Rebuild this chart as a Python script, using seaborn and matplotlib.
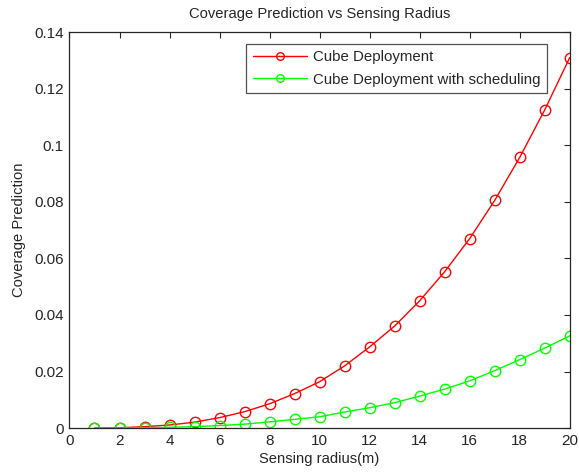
import matplotlib
matplotlib.use("Agg")
import matplotlib.pyplot as plt
import seaborn as sns
import pandas as pd
from matplotlib.ticker import FuncFormatter

radius = list(range(1, 21))
cube = [0.00002, 0.00013, 0.0005, 0.0011, 0.0021, 0.0037, 0.0058, 0.0086,
        0.0122, 0.0164, 0.0220, 0.0287, 0.0361, 0.0450, 0.0553, 0.0670,
        0.0805, 0.0957, 0.1125, 0.1310]
cube_sched = [0.000004, 0.00003, 0.0001, 0.0003, 0.0005, 0.0009, 0.0014, 0.0022,
              0.0031, 0.0040, 0.0057, 0.0072, 0.0090, 0.0113, 0.0138, 0.0167,
              0.0203, 0.0242, 0.0283, 0.0326]
labels = ["Cube Deployment", "Cube Deployment with scheduling"]
colors = ["#ff0000", "#00ff00"]

sns.set_style("white")
plt.rcParams["font.family"] = ["Liberation Sans", "DejaVu Sans"]

df = pd.DataFrame({
    "radius": radius * 2,
    "coverage": cube + cube_sched,
    "series": [labels[0]] * len(radius) + [labels[1]] * len(radius),
})

fig = plt.figure(figsize=(5.79, 4.72), dpi=100)
ax = fig.add_axes([0.120, 0.093, 0.864, 0.839])

for lab, col in zip(labels, colors):
    sub = df[df["series"] == lab]
    sns.lineplot(data=sub, x="radius", y="coverage", ax=ax, color=col,
                 marker="o", markersize=7.5, markerfacecolor="none",
                 markeredgecolor=col, markeredgewidth=1.0, linewidth=1.0,
                 label=lab, errorbar=None)

ax.set_xlim(0, 20)
ax.set_ylim(0, 0.14)
ax.set_xticks(range(0, 21, 2))
ax.set_yticks([0, 0.02, 0.04, 0.06, 0.08, 0.1, 0.12, 0.14])
ax.yaxis.set_major_formatter(FuncFormatter(lambda v, p: f"{v:.2f}".rstrip("0").rstrip(".") if v else "0"))
ax.tick_params(direction="in", length=4, width=0.8, top=True, right=True,
               labelsize=11, colors="#262626", pad=4)
for s in ax.spines.values():
    s.set_visible(True)
    s.set_color("#262626")
    s.set_linewidth(0.9)

ax.set_xlabel("Sensing radius(m)", fontsize=10.6, labelpad=3)
ax.set_ylabel("Coverage Prediction", fontsize=10.6, labelpad=6)
ax.set_title("Coverage Prediction vs Sensing Radius", fontsize=10.6, pad=10)

leg = ax.legend(loc="upper right", bbox_to_anchor=(0.955, 0.971), fontsize=10.8,
                frameon=True, fancybox=False, edgecolor="#262626",
                borderpad=0.45, handlelength=3.6, handletextpad=0.4,
                labelspacing=0.55, borderaxespad=0)
leg.get_frame().set_linewidth(0.9)
for h in leg.legend_handles:
    h.set_markersize(5.5)

fig.savefig("out.png", dpi=100)
